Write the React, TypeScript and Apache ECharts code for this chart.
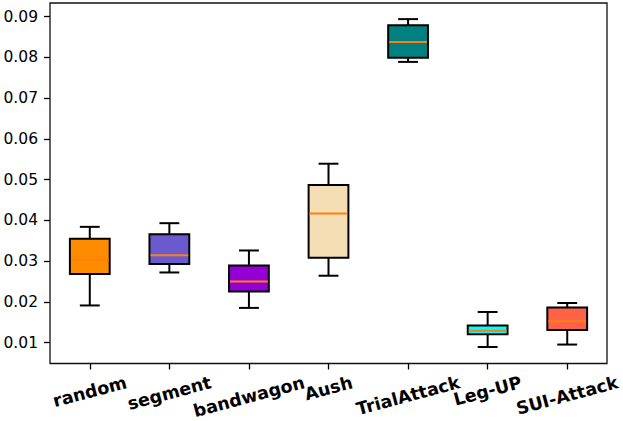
import React, { useEffect, useRef } from "react";
import * as echarts from "echarts";

const categories = ["random", "segment", "bandwagon", "Aush", "TrialAttack", "Leg-UP", "SUI-Attack"];
const lowWhisker = [0.0191, 0.0272, 0.0185, 0.0264, 0.0789, 0.0089, 0.0095];
const q1Values = [0.0268, 0.0293, 0.0225, 0.0308, 0.0799, 0.0120, 0.0131];
const medianValues = [0.0304, 0.0314, 0.0250, 0.0417, 0.0838, 0.0129, 0.0152];
const q3Values = [0.0355, 0.0366, 0.0289, 0.0487, 0.0879, 0.0142, 0.0186];
const highWhisker = [0.0384, 0.0393, 0.0326, 0.0539, 0.0894, 0.0175, 0.0197];
const boxColors = ["#FF8C00", "#6A5ACD", "#9400D3", "#F5DEB3", "#008080", "#00FFFF", "#FF6347"];
const yTicks = [0.01, 0.02, 0.03, 0.04, 0.05, 0.06, 0.07, 0.08, 0.09];
const yMin = 0.00485;
const yMax = 0.09336;

const FONT = "DejaVu Sans";
const X_FONT_SIZE = 17.5;
const ROT = 15;

function measure(text: string, font: string): number {
  const c = document.createElement("canvas");
  const ctx = c.getContext("2d");
  if (!ctx) return text.length * 10;
  ctx.font = font;
  return ctx.measureText(text).width;
}

export default function App() {
  const ref = useRef<HTMLDivElement>(null);
  useEffect(() => {
    document.body.style.margin = "0";
    if (!ref.current) return;
    const chart = echarts.init(ref.current, undefined, { renderer: "svg" });

    const s = Math.sin((ROT * Math.PI) / 180);
    const c = Math.cos((ROT * Math.PI) / 180);
    const T = 10;
    const rich: Record<string, any> = {};
    categories.forEach((cat, i) => {
      const w = measure(cat, `bold ${X_FONT_SIZE}px "${FONT}"`);
      const H = w * s + X_FONT_SIZE * c;
      const Y = T + H / 2;
      rich["s" + i] = {
        fontFamily: FONT,
        fontWeight: "bold",
        fontSize: X_FONT_SIZE,
        color: "#000",
        padding: [2 * Y * c, 2 * Y * s, 0, 0],
      };
    });

    const data = categories.map((_, i) => [
      i,
      lowWhisker[i],
      q1Values[i],
      medianValues[i],
      q3Values[i],
      highWhisker[i],
    ]);

    const lw = 2;
    chart.setOption({
      animation: false,
      grid: {
        left: 50,
        right: 16,
        top: 3,
        bottom: 57,
        show: true,
        borderColor: "#111",
        borderWidth: 1.3,
      },
      xAxis: {
        type: "category",
        data: categories,
        boundaryGap: true,
        axisLine: { show: false },
        axisTick: { show: true, alignWithLabel: true, length: 6, lineStyle: { color: "#000", width: 1.3 } },
        axisLabel: {
          interval: 0,
          rotate: ROT,
          margin: 0,
          align: "center",
          verticalAlign: "middle",
          formatter: (v: string, i: number) => `{s${i}|${v}}`,
          rich,
        },
        splitLine: { show: false },
      },
      yAxis: {
        type: "value",
        min: yMin,
        max: yMax,
        axisLine: { show: false },
        splitLine: { show: false },
        axisTick: { show: true, length: 6, customValues: yTicks, lineStyle: { color: "#000", width: 1.3 } },
        axisLabel: {
          customValues: yTicks,
          formatter: (v: number) => v.toFixed(2),
          fontFamily: FONT,
          fontSize: 15.5,
          color: "#000",
          margin: 12,
        },
      },
      series: [
        {
          type: "custom",
          data,
          encode: { x: 0, y: [1, 2, 3, 4, 5] },
          clip: false,
          renderItem: (params: any, api: any) => {
            const i = api.value(0);
            const lo = api.coord([i, api.value(1)]);
            const b1 = api.coord([i, api.value(2)]);
            const md = api.coord([i, api.value(3)]);
            const b3 = api.coord([i, api.value(4)]);
            const hi = api.coord([i, api.value(5)]);
            const band = api.size([1, 0])[0];
            const half = band * 0.25;
            const cap = band * 0.125;
            const x = md[0];
            const ls = { stroke: "#000", lineWidth: lw };
            return {
              type: "group",
              children: [
                { type: "line", shape: { x1: x, y1: lo[1], x2: x, y2: b1[1] }, style: ls },
                { type: "line", shape: { x1: x, y1: b3[1], x2: x, y2: hi[1] }, style: ls },
                { type: "line", shape: { x1: x - cap, y1: lo[1], x2: x + cap, y2: lo[1] }, style: ls },
                { type: "line", shape: { x1: x - cap, y1: hi[1], x2: x + cap, y2: hi[1] }, style: ls },
                {
                  type: "rect",
                  shape: { x: x - half, y: b3[1], width: 2 * half, height: b1[1] - b3[1] },
                  style: { fill: boxColors[params.dataIndex], stroke: "#000", lineWidth: lw },
                },
                {
                  type: "line",
                  shape: { x1: x - half + 1, y1: md[1], x2: x + half - 1, y2: md[1] },
                  style: { stroke: "#FF7F0E", lineWidth: 2 },
                },
              ],
            };
          },
        },
      ],
    });
    return () => chart.dispose();
  }, []);
  return <div ref={ref} style={{ width: 623, height: 421 }} />;
}
